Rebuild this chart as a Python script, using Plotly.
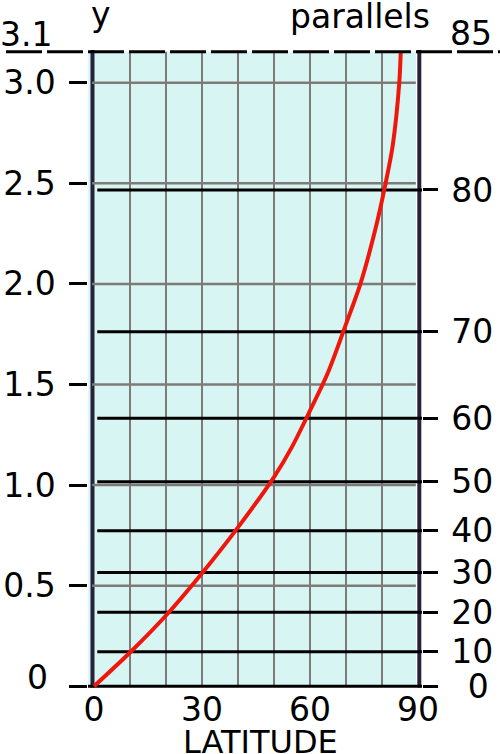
import plotly.graph_objects as go

# ---------------- data ----------------
lat_tick_vals = [0, 30, 60, 90]
lat_tick_text = ["0", "30", "60", "90"]

y_tick_vals = [0, 0.5, 1.0, 1.5, 2.0, 2.5, 3.0]
y_tick_text = ["", "0.5", "1.0", "1.5", "2.0", "2.5", "3.0"]

meridian_lat = [10, 20, 30, 40, 50, 60, 70, 80]
grid_y = [0.5, 1.0, 1.5, 2.0, 2.5, 3.0]

parallel_deg = [0, 10, 20, 30, 40, 50, 60, 70, 80]
parallel_y = [0, 0.172, 0.368, 0.565, 0.773, 1.017, 1.332, 1.762, 2.467]
top_parallel_deg = 85
top_parallel_y = 3.154

curve_lat = [0, 10, 20, 30, 40, 50, 55, 60, 65, 70, 74, 78, 81, 83, 84.8, 85.2]
curve_y = [0, 0.168, 0.352, 0.562, 0.79, 1.04, 1.19, 1.37, 1.56, 1.80, 2.0,
           2.26, 2.5, 2.69, 3.0, 3.15]

# ---------------- styling / geometry ----------------
W, H = 500, 754
ML, MR, MT, MB = 88, 78, 50, 62
X_RANGE = [-1.6667, 91.111]
Y_RANGE = [-0.02833, 3.1625]
FONT = "DejaVu Sans"
CYAN = "#d7f5f2"
GRAY = "#7e7a78"
DARK = "#25233a"
RED = "#f0160c"
THIN = "\u2009"

fig = go.Figure()

# gray meridians
mx, my = [], []
for m in meridian_lat:
    mx += [m, m, None]
    my += [0, top_parallel_y, None]
fig.add_trace(go.Scatter(x=mx, y=my, mode="lines", line=dict(color=GRAY, width=2),
                         hoverinfo="skip", showlegend=False))

# gray horizontal grid
gx, gy = [], []
for g in grid_y:
    gx += [-0.55, 89.4, None]
    gy += [g, g, None]
fig.add_trace(go.Scatter(x=gx, y=gy, mode="lines", line=dict(color=GRAY, width=2.5),
                         hoverinfo="skip", showlegend=False))

# black parallels (on right axis)
px_, py_ = [], []
for d, v in zip(parallel_deg, parallel_y):
    if d == 0:
        px_ += [X_RANGE[0] - 1, X_RANGE[1] + 1, None]
    else:
        px_ += [0.9, X_RANGE[1] + 1, None]
    py_ += [v, v, None]
fig.add_trace(go.Scatter(x=px_, y=py_, mode="lines", yaxis="y2",
                         line=dict(color="black", width=3),
                         hoverinfo="skip", showlegend=False))

# red curve
fig.add_trace(go.Scatter(x=curve_lat, y=curve_y, mode="lines", yaxis="y2",
                         line=dict(color=RED, width=4, shape="spline", smoothing=0.8),
                         hoverinfo="skip", showlegend=False))

shapes = [
    dict(type="rect", xref="x", yref="y", x0=-1.6, x1=89.45, y0=0, y1=top_parallel_y,
         fillcolor=CYAN, line=dict(width=0), layer="below"),
    dict(type="line", xref="x", yref="y", x0=-0.42, x1=-0.42, y0=-0.006, y1=Y_RANGE[1],
         line=dict(color=DARK, width=4), layer="below"),
    dict(type="line", xref="x", yref="y", x0=90.36, x1=90.36, y0=-0.006, y1=Y_RANGE[1],
         line=dict(color=DARK, width=4), layer="below"),
    dict(type="line", xref="paper", yref="y", x0=(6 - ML) / (W - ML - MR), x1=(500 - ML) / (W - ML - MR),
         y0=top_parallel_y, y1=top_parallel_y,
         line=dict(color="black", width=3, dash="36px,5px"), layer="above"),
]

PW = W - ML - MR
PH = H - MT - MB


def pxx(p):
    return (p - ML) / PW


def pyy(p):
    return (H - MB - p) / PH


annotations = [
    dict(text="y", x=pxx(101), y=pyy(15), xref="paper", yref="paper", showarrow=False,
         xanchor="center", yanchor="middle", font=dict(family=FONT, size=33, color="black")),
    dict(text="parallels", x=pxx(360), y=pyy(16), xref="paper", yref="paper", showarrow=False,
         xanchor="center", yanchor="middle", font=dict(family=FONT, size=33, color="black")),
    dict(text="3.1", x=pxx(26), y=pyy(34), xref="paper", yref="paper", showarrow=False,
         xanchor="center", yanchor="middle", font=dict(family=FONT, size=33, color="black")),
    dict(text=str(top_parallel_deg), x=pxx(471), y=pyy(33), xref="paper", yref="paper", showarrow=False,
         xanchor="center", yanchor="middle", font=dict(family=FONT, size=33, color="black")),
    dict(text="0", x=pxx(37), y=pyy(677), xref="paper", yref="paper", showarrow=False,
         xanchor="center", yanchor="middle", font=dict(family=FONT, size=33, color="black")),
    dict(text="LATITUDE", x=pxx(260), y=pyy(742), xref="paper", yref="paper", showarrow=False,
         xanchor="center", yanchor="middle", font=dict(family=FONT, size=32, color="black")),
]

left_text = [t + THIN if t else t for t in y_tick_text]
right_text = [THIN + ("\u2002" + str(d) if d == 0 else str(d)) for d in parallel_deg]

fig.update_layout(
    width=W, height=H, autosize=False,
    margin=dict(l=ML, r=MR, t=MT, b=MB, pad=0),
    paper_bgcolor="white", plot_bgcolor="white",
    showlegend=False,
    font=dict(family=FONT, size=33, color="black"),
    xaxis=dict(range=X_RANGE, showgrid=False, zeroline=False, showline=False,
               automargin=False,
               tickmode="array", tickvals=lat_tick_vals, ticktext=lat_tick_text,
               ticks="", ticklabelstandoff=-5,
               tickfont=dict(family=FONT, size=33, color="black"), fixedrange=True),
    yaxis=dict(range=Y_RANGE, showgrid=False, zeroline=False, showline=False,
               automargin=False,
               tickmode="array", tickvals=y_tick_vals, ticktext=left_text,
               ticks="outside", ticklen=18, tickwidth=3, tickcolor="black",
               tickfont=dict(family=FONT, size=33, color="black"), fixedrange=True),
    yaxis2=dict(range=Y_RANGE, overlaying="y", side="right", showgrid=False, zeroline=False,
                automargin=False,
                showline=False, tickmode="array", tickvals=parallel_y, ticktext=right_text,
                ticks="outside", ticklen=15, tickwidth=3, tickcolor="black",
                tickfont=dict(family=FONT, size=33, color="black"), fixedrange=True),
    shapes=shapes,
    annotations=annotations,
)

fig.write_html(
    "out.html",
    config={"displayModeBar": False},
    post_script="document.body.style.margin='0';document.body.style.padding='0';",
)
